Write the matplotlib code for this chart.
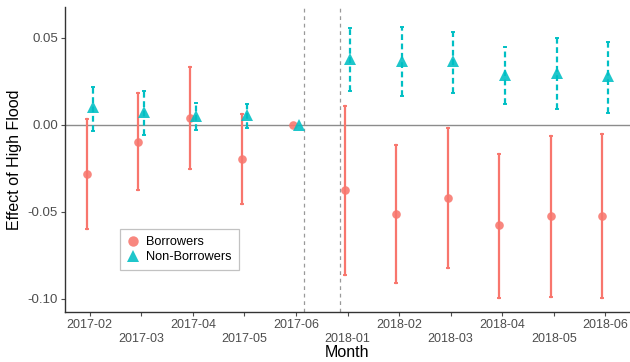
import numpy as np
import matplotlib
matplotlib.use("Agg")
import matplotlib.pyplot as plt
from matplotlib.lines import Line2D

plt.rcParams['font.family'] = ['Liberation Sans', 'DejaVu Sans']

MONTHS = ["2017-02", "2017-03", "2017-04", "2017-05", "2017-06",
          "2018-01", "2018-02", "2018-03", "2018-04", "2018-05", "2018-06"]

# Borrowers: estimate, upper CI, lower CI
BOR_EST = [-0.0283, -0.0096, 0.0039, -0.0197, 0.0, -0.0376, -0.0511, -0.0421, -0.0577, -0.0525, -0.0521]
BOR_HI = [0.0033, 0.0182, 0.0335, 0.0063, 0.0, 0.0111, -0.0115, -0.0019, -0.0165, -0.0065, -0.0052]
BOR_LO = [-0.0600, -0.0374, -0.0255, -0.0456, 0.0, -0.0864, -0.0908, -0.0824, -0.0993, -0.0987, -0.0993]

# Non-borrowers
NON_EST = [0.0102, 0.0077, 0.0053, 0.0057, 0.0, 0.0379, 0.0370, 0.0366, 0.0287, 0.0299, 0.0280]
NON_HI = [0.0217, 0.0197, 0.0125, 0.0122, 0.0, 0.0557, 0.0565, 0.0536, 0.0448, 0.0500, 0.0479]
NON_LO = [-0.0034, -0.0057, -0.0029, -0.0016, 0.0, 0.0195, 0.0165, 0.0186, 0.0121, 0.0090, 0.0071]

Y_TICKS = [-0.10, -0.05, 0.00, 0.05]
BREAKS = [4.15, 4.86]

RED = "#F8766D"
TEAL = "#00BFC4"
DODGE = 0.055

fig = plt.figure(figsize=(6.3, 3.62), dpi=100)
ax = fig.add_axes([65 / 630, 50 / 362, 565 / 630, 305 / 362])

x = np.arange(len(MONTHS))

ax.axhline(0, color="#8c8c8c", lw=1.0, zorder=1)
for b in BREAKS:
    ax.axvline(b, color="#999999", lw=0.9, ls=(0, (3, 3)), zorder=1)

def draw_series(xs, est, lo, hi, color, marker, ms, dashed):
    est, lo, hi = map(np.asarray, (est, lo, hi))
    for xi, l, h in zip(xs, lo, hi):
        if h - l <= 0:
            continue
        ax.plot([xi, xi], [l, h], color=color, lw=1.6,
                ls=(0, (2.6, 1.6)) if dashed else "-", zorder=2)
        for yy in (l, h):
            ax.plot([xi - 0.02, xi + 0.02], [yy, yy], color=color, lw=1.4, zorder=2)
    ax.plot(xs, est, ls="none", marker=marker, ms=ms, color=color,
            alpha=0.88, markeredgewidth=0, zorder=3)

draw_series(x - DODGE, BOR_EST, BOR_LO, BOR_HI, RED, "o", 6.2, False)
draw_series(x + DODGE, NON_EST, NON_LO, NON_HI, TEAL, "^", 8.5, True)

ax.set_xlim(-0.48, 10.48)
ax.set_ylim(-0.1075, 0.0678)

labels = [m if i % 2 == 0 else "\n" + m for i, m in enumerate(MONTHS)]
ax.set_xticks(x)
ax.set_xticklabels(labels, fontsize=9, color="#4d4d4d")
ax.set_yticks(Y_TICKS)
ax.set_yticklabels([f"{v:.2f}" if v >= 0 else f"-{abs(v):.2f}" for v in Y_TICKS],
                   fontsize=9.5, color="#4d4d4d")
ax.tick_params(axis="both", length=3, width=0.8, color="#4d4d4d", pad=2)

for side in ("top", "right"):
    ax.spines[side].set_visible(False)
for side in ("left", "bottom"):
    ax.spines[side].set_color("#333333")
    ax.spines[side].set_linewidth(1.0)

ax.set_xlabel("Month", fontsize=11.5, labelpad=0)
ax.set_ylabel("Effect of High Flood", fontsize=11.5, labelpad=4)

handles = [
    Line2D([], [], ls="none", marker="o", ms=7.5, color=RED, alpha=0.88, markeredgewidth=0),
    Line2D([], [], ls="none", marker="^", ms=8.5, color=TEAL, alpha=0.88, markeredgewidth=0),
]
leg = ax.legend(handles, ["Borrowers", "Non-Borrowers"], loc="upper left",
                bbox_to_anchor=(55 / 565, 83 / 305), fontsize=9.2, frameon=True,
                fancybox=False, edgecolor="#b3b3b3", handlelength=1.0,
                handletextpad=0.5, borderpad=0.55, labelspacing=0.25,
                borderaxespad=0)
leg.get_frame().set_linewidth(0.9)

fig.savefig("out.png", dpi=100)
